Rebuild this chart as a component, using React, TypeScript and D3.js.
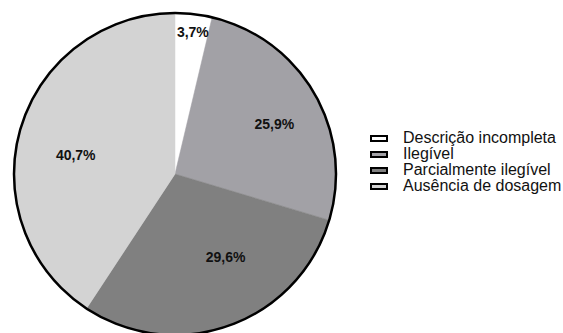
import React from "react";
import * as d3 from "d3";

const categories = [
  "Descrição incompleta",
  "Ilegível",
  "Parcialmente ilegível",
  "Ausência de dosagem",
];
const values = [3.7, 25.9, 29.6, 40.7];
const valueLabels = ["3,7%", "25,9%", "29,6%", "40,7%"];
const colors = ["#ffffff", "#a2a1a6", "#808080", "#d3d3d3"];

// label placement: distance from centre and angular nudge (degrees)
const labelRadius = [143, 111, 97, 101];
const labelNudge = [0.5, 3.5, -11.4, -6.1];

const W = 563;
const H = 333;
const cx = 175;
const cy = 174;
const R = 161;

export default function App() {
  const pie = d3
    .pie<number>()
    .sort(null)
    .value((d) => d)
    .startAngle(0)
    .endAngle(2 * Math.PI);
  const arcs = pie(values);
  const arc = d3.arc<d3.PieArcDatum<number>>().innerRadius(0).outerRadius(R);

  const legendX = 370;
  const legendY0 = 138.5;
  const legendStep = 16;

  return (
    <svg
      width={W}
      height={H}
      style={{ position: "absolute", left: 0, top: 0, background: "#fff" }}
      fontFamily="'Liberation Sans', Arial, sans-serif"
    >
      <g transform={`translate(${cx},${cy})`}>
        {arcs.map((a, i) => (
          <path
            key={i}
            d={arc(a) || ""}
            fill={colors[i]}
            stroke={colors[i]}
            strokeWidth={0.5}
          />
        ))}
        <circle r={R} fill="none" stroke="#000" strokeWidth={2.5} />
        {arcs.map((a, i) => {
          const mid =
            (a.startAngle + a.endAngle) / 2 + (labelNudge[i] * Math.PI) / 180;
          const x = labelRadius[i] * Math.sin(mid);
          const y = -labelRadius[i] * Math.cos(mid);
          return (
            <text
              key={i}
              x={x}
              y={y}
              textAnchor="middle"
              dominantBaseline="central"
              fontSize={14}
              fontWeight="bold"
              fill="#111"
            >
              {valueLabels[i]}
            </text>
          );
        })}
      </g>
      <g>
        {categories.map((c, i) => {
          const y = legendY0 + i * legendStep;
          return (
            <g key={i}>
              <rect
                x={legendX + 1}
                y={y - 2.5}
                width={16}
                height={5}
                fill={colors[i]}
                stroke="#000"
                strokeWidth={2}
              />
              <text x={403} y={y + 4} fontSize={16} fill="#111">
                {c}
              </text>
            </g>
          );
        })}
      </g>
    </svg>
  );
}
